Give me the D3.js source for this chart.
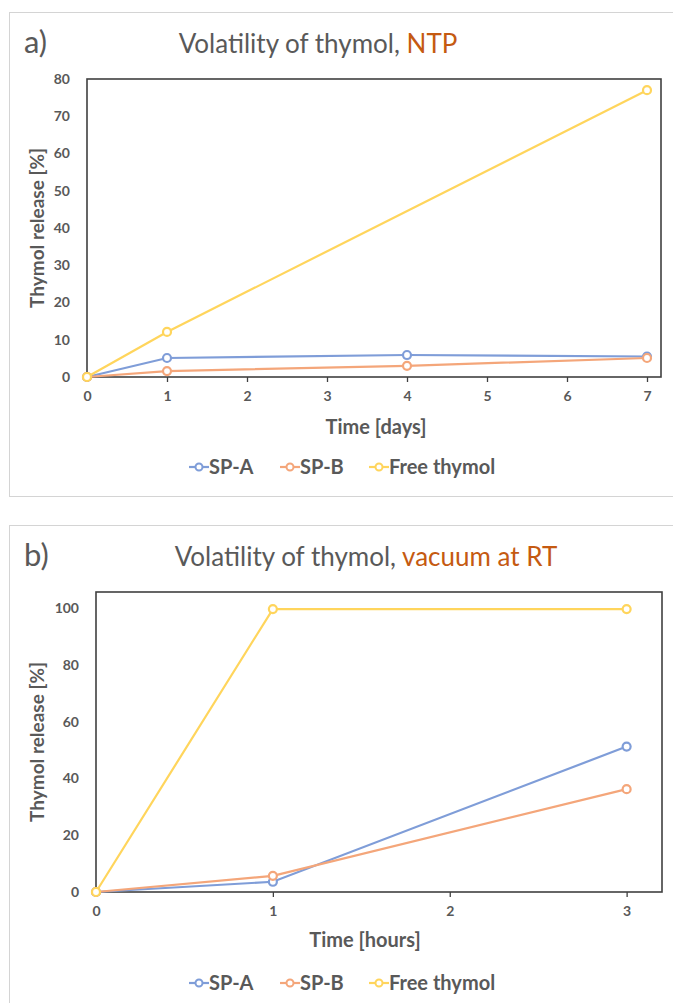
<!DOCTYPE html>
<html>
<head>
<meta charset="utf-8">
<script src="https://cdn.jsdelivr.net/npm/d3@7"></script>
<style>
  body { margin: 0; background: #fff; }
  text { font-family: Lato, "Open Sans", sans-serif; }
</style>
</head>
<body>
<svg id="chart" width="673" height="1003"></svg>
<script>
// ---- data ----
var seriesNames = ["SP-A", "SP-B", "Free thymol"]
var seriesColors = ["#7f9dd8", "#f4a67a", "#ffd55c"]

// a) NTP, time in days
var daysA = [0, 1, 4, 7]
var spA_ntp = [0, 5.1, 5.9, 5.5]
var spB_ntp = [0, 1.6, 3.0, 5.1]
var daysFree = [0, 1, 7]
var free_ntp = [0, 12.1, 77.0]
var yTicksA = [0, 10, 20, 30, 40, 50, 60, 70, 80]
var xTicksA = [0, 1, 2, 3, 4, 5, 6, 7]

// b) vacuum at RT, time in hours
var hoursB = [0, 1, 3]
var spA_vac = [0, 3.6, 51.2]
var spB_vac = [0, 5.7, 36.2]
var free_vac = [0, 99.6, 99.6]
var yTicksB = [0, 20, 40, 60, 80, 100]
var xTicksB = [0, 1, 2, 3]

var svg = d3.select("#chart")

function drawPanel(opt) {
	var g = svg.append("g")

	// panel border
	g.append("rect")
		.attr("x", 9.5).attr("y", opt.top + 0.5)
		.attr("width", 680).attr("height", opt.boxH)
		.attr("fill", "none").attr("stroke", "#d4d4d4").attr("stroke-width", 1)

	// title
	g.append("text").attr("x", 24).attr("y", opt.top + 41)
		.attr("font-size", 31).attr("fill", "#595959").text(opt.letter)
	var t = g.append("text").attr("x", opt.titleX).attr("y", opt.top + 41)
		.attr("font-size", 26).attr("text-anchor", "middle").attr("fill", "#595959")
	t.append("tspan").text("Volatility of thymol, ")
	t.append("tspan").attr("fill", "#c55a11").text(opt.cond)

	var x = d3.scaleLinear().domain(opt.xDomain).range([opt.left, opt.right])
	var y = d3.scaleLinear().domain(opt.yDomain).range([opt.bottom, opt.plotTop])

	// y tick labels (no tick marks)
	var yAxis = g.append("g")
		.attr("transform", "translate(" + opt.left + ",0)")
		.call(d3.axisLeft(y).tickValues(opt.yTicks).tickSize(0).tickPadding(17).tickFormat(d3.format("d")))
	yAxis.select(".domain").remove()
	yAxis.selectAll("text").attr("font-size", 14).attr("font-weight", "bold").attr("fill", "#595959")
		.style("font-family", "Lato, sans-serif")

	// x axis with ticks
	var xAxis = g.append("g")
		.attr("transform", "translate(0," + opt.bottom + ")")
		.call(d3.axisBottom(x).tickValues(opt.xTicks).tickSize(5).tickPadding(9).tickFormat(d3.format("d")))
	xAxis.select(".domain").remove()
	xAxis.selectAll("line").attr("stroke", "#404040").attr("stroke-width", 1.3)
	xAxis.selectAll("text").attr("font-size", 14).attr("font-weight", "bold").attr("fill", "#595959")
		.style("font-family", "Lato, sans-serif")

	// plot frame
	g.append("rect")
		.attr("x", opt.left).attr("y", opt.plotTop)
		.attr("width", opt.right - opt.left).attr("height", opt.bottom - opt.plotTop)
		.attr("fill", "none").attr("stroke", "#404040").attr("stroke-width", 1.6)

	// axis titles
	g.append("text")
		.attr("transform", "translate(" + opt.yTitleX + "," + ((opt.plotTop + opt.bottom) / 2) + ") rotate(-90)")
		.attr("text-anchor", "middle").attr("font-size", 19).attr("font-weight", "bold").attr("fill", "#595959")
		.text("Thymol release [%]")
	g.append("text")
		.attr("x", opt.xTitleCx).attr("y", opt.xTitleY)
		.attr("text-anchor", "middle").attr("font-size", 20).attr("font-weight", "bold").attr("fill", "#595959")
		.text(opt.xTitle)

	// series
	var line = d3.line().x(function(d) { return x(d[0]) }).y(function(d) { return y(d[1]) })
	opt.series.forEach(function(s, i) {
		var pts = s.xs.map(function(v, j) { return [v, s.ys[j]] })
		g.append("path").datum(pts).attr("d", line)
			.attr("fill", "none").attr("stroke", seriesColors[i]).attr("stroke-width", 2.2)
		g.selectAll(".m" + i).data(pts).enter().append("circle")
			.attr("cx", function(d) { return x(d[0]) })
			.attr("cy", function(d) { return y(d[1]) })
			.attr("r", 4).attr("fill", "#fff")
			.attr("stroke", seriesColors[i]).attr("stroke-width", 2.2)
	})

	// legend
	var widths = [52, 50, 118]
	var lx = opt.legendX
	seriesNames.forEach(function(n, i) {
		var lg = g.append("g").attr("transform", "translate(" + lx + "," + opt.legendY + ")")
		lg.append("line").attr("x1", 0).attr("x2", 20).attr("y1", -7).attr("y2", -7)
			.attr("stroke", seriesColors[i]).attr("stroke-width", 2.2)
		lg.append("circle").attr("cx", 10).attr("cy", -7).attr("r", 3.5)
			.attr("fill", "#fff").attr("stroke", seriesColors[i]).attr("stroke-width", 2)
		lg.append("text").attr("x", 20).attr("y", 0)
			.attr("font-size", 20).attr("font-weight", "bold").attr("fill", "#595959").text(n)
		lx += 20 + widths[i] + 19
	})
}

drawPanel({
	top: 12, boxH: 484, letter: "a)", cond: "NTP", titleX: 318,
	left: 87, right: 661, plotTop: 79, bottom: 377,
	xDomain: [0, 7.175], yDomain: [0, 80],
	xTicks: xTicksA, yTicks: yTicksA,
	yTitleX: 44, xTitle: "Time [days]", xTitleY: 434, xTitleCx: 376,
	legendX: 189, legendY: 474,
	series: [
		{ xs: daysA, ys: spA_ntp },
		{ xs: daysA, ys: spB_ntp },
		{ xs: daysFree, ys: free_ntp }
	]
})

drawPanel({
	top: 525, boxH: 500, letter: "b)", cond: "vacuum at RT", titleX: 366,
	left: 96, right: 662, plotTop: 592, bottom: 892,
	xDomain: [0, 3.2], yDomain: [0, 105.6],
	xTicks: xTicksB, yTicks: yTicksB,
	yTitleX: 44, xTitle: "Time [hours]", xTitleY: 947, xTitleCx: 365,
	legendX: 189, legendY: 990,
	series: [
		{ xs: hoursB, ys: spA_vac },
		{ xs: hoursB, ys: spB_vac },
		{ xs: hoursB, ys: free_vac }
	]
})
</script>
</body>
</html>
